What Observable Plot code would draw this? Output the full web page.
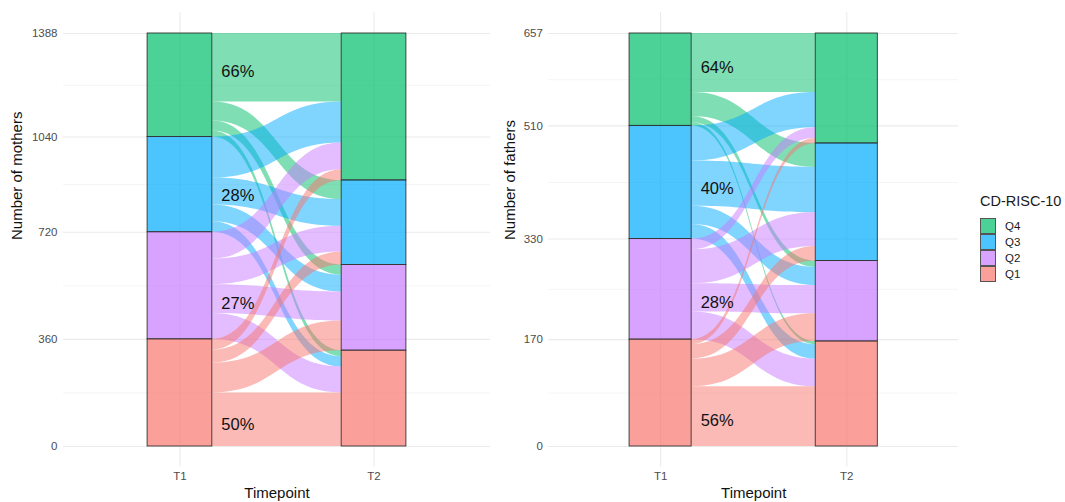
<!DOCTYPE html>
<html><head><meta charset="utf-8">
<script src="https://cdn.jsdelivr.net/npm/d3@7"></script>
<script src="https://cdn.jsdelivr.net/npm/@observablehq/plot@0.6"></script>
<style>
body{margin:0;background:#fff;font-family:"Liberation Sans",Arial,sans-serif;}
#root{position:relative;width:1065px;height:502px;overflow:hidden;background:#fff;}
.panel{position:absolute;top:0;}
#legend{position:absolute;left:980px;top:193px;color:#1a1a1a;}
#legend .title{font-size:14.5px;line-height:17px;margin-bottom:8px;}
#legend .item{display:flex;align-items:center;height:16px;}
#legend .sw{width:14px;height:14px;border:1px solid #555;box-sizing:content-box;margin-right:9px;}
#legend .lab{font-size:11.5px;}
</style></head><body><div id="root"></div>
<script>
// Quartiles listed top to bottom
const quartiles = ["Q4", "Q3", "Q2", "Q1"];
const timepoints = ["T1", "T2"];
const colors = ["#00BD6A", "#00ABFD", "#C77CFF", "#F8766D"];
// rows: quartile at T1 (Q4..Q1), cols: quartile at T2 (Q4..Q1)
const mothersFlows = [
  [230, 64, 34, 20],
  [138, 90, 57, 35],
  [90, 86, 97, 87],
  [36, 44, 100, 180]
];
const fathersFlows = [
  [94, 38, 10, 5],
  [56, 72, 29, 23],
  [17, 54, 45, 44],
  [8, 23, 44, 95]
];
const mothersTicks = [0, 360, 720, 1040, 1388];
const fathersTicks = [0, 170, 330, 510, 657];
const mothersLabel = "Number of mothers";
const fathersLabel = "Number of fathers";
const xLabel = "Timepoint";
const legendTitle = "CD-RISC-10";

const W = 1 / 3; // stratum width

function build(flows) {
  const n = quartiles.length;
  const rowSum = flows.map(r => d3.sum(r));
  const colSum = quartiles.map((_, j) => d3.sum(flows, r => r[j]));
  const total = d3.sum(rowSum);
  const topsT1 = [], topsT2 = [];
  let c1 = total, c2 = total;
  for (let i = 0; i < n; i++) {
    topsT1.push(c1); c1 -= rowSum[i];
    topsT2.push(c2); c2 -= colSum[i];
  }
  const strata = [];
  for (let i = 0; i < n; i++) {
    strata.push({t: 1, q: quartiles[i], y2: topsT1[i], y1: topsT1[i] - rowSum[i]});
    strata.push({t: 2, q: quartiles[i], y2: topsT2[i], y1: topsT2[i] - colSum[i]});
  }
  const pts = [], labels = [];
  const outOff = topsT1.slice(), inOff = topsT2.slice();
  for (let i = 0; i < n; i++) for (let j = 0; j < n; j++) {
    const v = flows[i][j];
    const a2 = outOff[i], a1 = a2 - v; outOff[i] = a1;
    const b2 = inOff[j], b1 = b2 - v; inOff[j] = b1;
    const id = i + "-" + j;
    pts.push({id, q: quartiles[i], x: 1 + W / 2, y1: a1, y2: a2});
    pts.push({id, q: quartiles[i], x: 2 - W / 2, y1: b1, y2: b2});
    if (i === j) labels.push({x: 1 + W / 2, y: (a1 + a2) / 2, text: Math.round(v / rowSum[i] * 100) + "%"});
  }
  return {strata, pts, labels, total};
}

function panel(flows, ticks, yLabel, opts) {
  const {strata, pts, labels, total} = build(flows);
  const pad = total * 0.05;
  const minor = d3.pairs(ticks).map(([a, b]) => (a + b) / 2);
  return Plot.plot({
    width: opts.width, height: 502,
    marginLeft: opts.marginLeft, marginRight: 0, marginTop: 12.35, marginBottom: 35.35,
    style: {fontFamily: '"Liberation Sans", Arial, sans-serif', fontSize: "11.5px", background: "transparent", overflow: "visible"},
    x: {domain: [0.4, 2.6]},
    y: {domain: [-pad, total + pad]},
    color: {domain: quartiles, range: colors},
    marks: [
      Plot.ruleY(minor, {stroke: "#EBEBEB", strokeWidth: 0.55}),
      Plot.ruleY(ticks, {stroke: "#EBEBEB", strokeWidth: 1.07}),
      Plot.ruleX([1, 2], {stroke: "#EBEBEB", strokeWidth: 1.07}),
      Plot.area(pts, {x1: "x", y1: "y1", y2: "y2", z: "id", fill: "q", fillOpacity: 0.5, curve: "bump-x"}),
      Plot.rect(strata, {x1: d => d.t - W / 2, x2: d => d.t + W / 2, y1: "y1", y2: "y2", fill: "q", fillOpacity: 0.7, stroke: "#333", strokeWidth: 0.9}),
      Plot.text(labels, {x: "x", y: "y", text: "text", textAnchor: "start", dx: 9, dy: 4.5, fontSize: 16.5, fill: "#111"}),
      Plot.axisY({ticks, tickSize: 0, tickPadding: 6, tickFormat: d => String(d), fill: "#4D4D4D", fontSize: 11.5, label: null}),
      Plot.axisX({ticks: [1, 2], tickSize: 0, tickPadding: 4.5, tickFormat: d => timepoints[d - 1], fill: "#4D4D4D", fontSize: 11.5, label: null}),
      Plot.text([yLabel], {frameAnchor: "left", dx: opts.titleDx, rotate: -90, fontSize: 15, fill: "#111"}),
      Plot.text([xLabel], {frameAnchor: "bottom", dy: 31, fontSize: 15, fill: "#111"})
    ]
  });
}

const root = document.getElementById("root");
const p1 = panel(mothersFlows, mothersTicks, mothersLabel, {width: 490, marginLeft: 63, titleDx: -46});
p1.classList.add("panel"); p1.style.left = "0px";
root.appendChild(p1);
const p2 = panel(fathersFlows, fathersTicks, fathersLabel, {width: 468, marginLeft: 58.4, titleDx: -38.4});
p2.classList.add("panel"); p2.style.left = "490px";
root.appendChild(p2);

const leg = document.createElement("div");
leg.id = "legend";
const t = document.createElement("div"); t.className = "title"; t.textContent = legendTitle; leg.appendChild(t);
quartiles.forEach((q, i) => {
  const it = document.createElement("div"); it.className = "item";
  const sw = document.createElement("div"); sw.className = "sw";
  const c = d3.color(colors[i]); c.opacity = 0.7; sw.style.background = c.formatRgb();
  const lab = document.createElement("span"); lab.className = "lab"; lab.textContent = q;
  it.appendChild(sw); it.appendChild(lab); leg.appendChild(it);
});
root.appendChild(leg);
</script></body></html>
